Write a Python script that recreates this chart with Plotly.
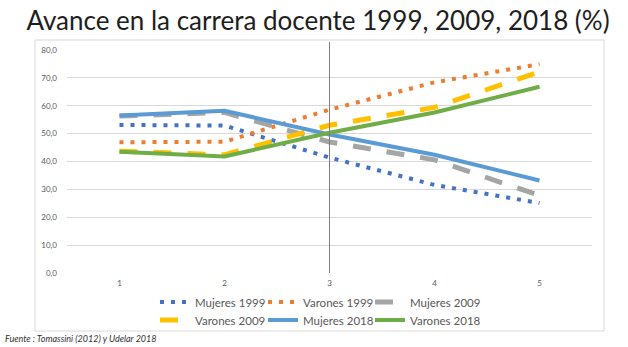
import plotly.graph_objects as go

x_vals = [1, 2, 3, 4, 5]
x_labels = ["1", "2", "3", "4", "5"]

mujeres_1999 = [53.1, 52.9, 41.4, 31.6, 25.1]
varones_1999 = [46.9, 47.1, 58.6, 68.4, 74.9]
mujeres_2009 = [56.3, 57.6, 47.0, 40.6, 27.8]
varones_2009 = [43.7, 42.4, 53.0, 59.4, 72.2]
mujeres_2018 = [56.5, 58.2, 49.7, 42.4, 33.2]
varones_2018 = [43.5, 41.8, 50.3, 57.6, 66.8]

series = [
    ("Mujeres 1999", mujeres_1999, "#4472C4", "4px,7px", 4),
    ("Varones 1999", varones_1999, "#ED7D31", "4px,7px", 4),
    ("Mujeres 2009", mujeres_2009, "#A5A5A5", "18px,16px", 5),
    ("Varones 2009", varones_2009, "#FFC000", "18px,16px", 5),
    ("Mujeres 2018", mujeres_2018, "#5B9BD5", "solid", 4),
    ("Varones 2018", varones_2018, "#70AD47", "solid", 4),
]

W, H = 628, 347
L, R, T, B = 67, 36, 50, 74
pw, ph = W - L - R, H - T - B


def px(xp):
    return (xp - L) / pw


def py(yp):
    return (H - B - yp) / ph


# legend slot positions (pixel) for each entry: 3 columns x 2 rows
leg_cols = [155, 263, 370]
leg_rows = [302, 320]

FONT = "Lato"
fig = go.Figure()
legend_layout = {}
for i, (name, vals, color, dash, width) in enumerate(series):
    key = "legend" if i == 0 else f"legend{i + 1}"
    fig.add_trace(go.Scatter(
        x=x_vals, y=vals, name=name, mode="lines",
        line=dict(color=color, dash=dash, width=width),
        legend=key, hoverinfo="skip",
    ))
    legend_layout[key] = dict(
        x=px(leg_cols[i % 3]), y=py(leg_rows[i // 3]),
        xanchor="left", yanchor="middle",
        font=dict(family=FONT, size=11.5, color="#595959"),
        bgcolor="rgba(0,0,0,0)", itemwidth=30,
    )

fig.update_layout(
    width=W, height=H,
    margin=dict(l=L, r=R, t=T, b=B),
    paper_bgcolor="white", plot_bgcolor="white",
    separators=",.",
    showlegend=True,
    title=dict(
        text="Avance en la carrera docente 1999, 2009, 2018 (%)",
        x=318 / W, xref="container", xanchor="center",
        y=1 - 21 / H, yref="container", yanchor="middle",
        font=dict(family=FONT, size=26, color="#1E1E1E"),
    ),
    xaxis=dict(
        range=[0.5, 5.5], tickvals=x_vals, ticktext=x_labels,
        showgrid=False, zeroline=False, showline=False, ticks="",
        tickfont=dict(family=FONT, size=8, color="#595959"),
        ticklabelstandoff=4, fixedrange=True,
    ),
    yaxis=dict(
        range=[0, 80], dtick=10, tickformat=".1f",
        showgrid=True, gridcolor="#D9D9D9", gridwidth=1,
        zeroline=False, showline=False, ticks="",
        tickfont=dict(family=FONT, size=8, color="#595959"),
        ticklabelstandoff=9, fixedrange=True,
    ),
    shapes=[
        dict(type="rect", xref="paper", yref="paper",
             x0=px(35), x1=px(604), y0=py(331), y1=py(40),
             line=dict(color="#D9D9D9", width=1), fillcolor="rgba(0,0,0,0)",
             layer="below"),
        dict(type="line", xref="x", yref="paper",
             x0=3, x1=3, y0=0, y1=py(42),
             line=dict(color="#7F7F7F", width=1)),
    ],
    annotations=[
        dict(text="<i>Fuente : Tomassini (2012) y Udelar 2018</i>",
             xref="paper", yref="paper", x=px(3), y=py(338),
             xanchor="left", yanchor="middle", showarrow=False,
             font=dict(family=FONT, size=9, color="#333333")),
    ],
    **legend_layout,
)

fig.write_html("out.html")
